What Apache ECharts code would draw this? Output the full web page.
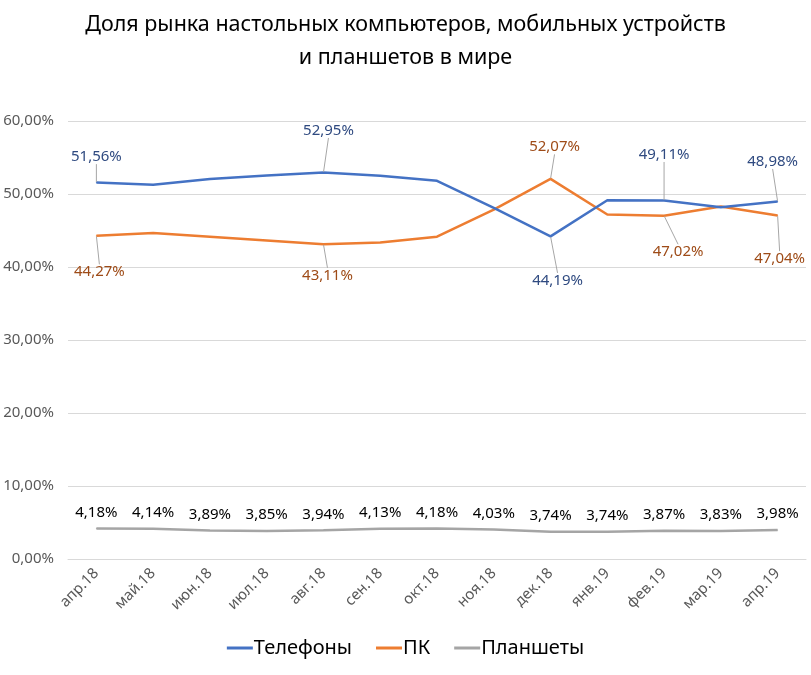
<!DOCTYPE html>
<html><head><meta charset="utf-8">
<script src="https://cdn.jsdelivr.net/npm/echarts@6/dist/echarts.min.js"></script>
<style>html,body{margin:0;padding:0;background:#fff}#c{width:811px;height:675px}</style>
</head><body><div id="c"></div>
<script>
var categories = ['апр.18','май.18','июн.18','июл.18','авг.18','сен.18','окт.18','ноя.18','дек.18','янв.19','фев.19','мар.19','апр.19'];
var phones  = [51.56, 51.27, 52.05, 52.55, 52.95, 52.50, 51.80, 48.10, 44.19, 49.15, 49.11, 48.20, 48.98];
var pcs     = [44.27, 44.66, 44.15, 43.62, 43.11, 43.35, 44.15, 47.85, 52.07, 47.20, 47.02, 48.30, 47.04];
var tablets = [4.18, 4.14, 3.89, 3.85, 3.94, 4.13, 4.18, 4.03, 3.74, 3.74, 3.87, 3.83, 3.98];
var seriesNames = ['Телефоны','ПК','Планшеты'];
var yTicks = {min: 0, max: 60, interval: 10};

// label placement (style): dataIndex -> [dx, dy] of label centre from point
var phoneLabels = {0:[0,-26], 4:[5,-42], 8:[7,44], 10:[0,-46], 12:[-5,-40]};
var pcLabels    = {0:[3,36], 4:[4,31], 8:[4,-32], 10:[14,36], 12:[2,43]};

var FONT = 'Noto Sans';
function pct(v){ return v.toFixed(2).replace('.', ',') + '%'; }

function mkData(vals, map){
  return vals.map(function(v,i){
    return { value: v, label: { show: map.hasOwnProperty(i) } };
  });
}
function layoutFn(map){
  return function(p){
    var o = map[p.dataIndex];
    if (!o) return {};
    return { dx: o[0], dy: o[1] };
  };
}

var chart = echarts.init(document.getElementById('c'), null, {renderer:'canvas'});
chart.setOption({
  animation: false,
  textStyle: { fontFamily: FONT },
  title: {
    text: 'Доля рынка настольных компьютеров, мобильных устройств\nи планшетов в мире',
    left: 'center', top: 3,
    textStyle: { fontFamily: FONT, fontSize: 21.5, fontWeight: 'normal', color: '#000', lineHeight: 33 }
  },
  legend: {
    bottom: 12, left: 'center',
    icon: 'rect', itemWidth: 26, itemHeight: 3, itemGap: 24,
    textStyle: { fontFamily: FONT, fontSize: 20, color: '#000', padding: [0,0,0,-4] },
    data: seriesNames
  },
  grid: { left: 68, right: 5, top: 121, bottom: 116, containLabel: false },
  xAxis: {
    type: 'category', data: categories, boundaryGap: true,
    axisLine: { show: true, lineStyle: { color: '#d9d9d9' } },
    axisTick: { show: false },
    axisLabel: { rotate: 45, color: '#595959', fontSize: 15, fontFamily: FONT, margin: 12, interval: 0 }
  },
  yAxis: {
    type: 'value', min: yTicks.min, max: yTicks.max, interval: yTicks.interval,
    axisLine: { show: false }, axisTick: { show: false },
    splitLine: { lineStyle: { color: '#d9d9d9', width: 1 } },
    axisLabel: { color: '#595959', fontSize: 15, fontFamily: FONT, margin: 14, formatter: function(v){ return pct(v); } }
  },
  series: [
    {
      name: seriesNames[0], type: 'line', data: mkData(phones, phoneLabels),
      symbol: 'circle', symbolSize: 1, showSymbol: true,
      lineStyle: { color: '#4472C4', width: 2.5 }, itemStyle: { color: '#4472C4' },
      label: { position: 'inside', color: '#2F4A80', fontSize: 15, fontFamily: FONT, formatter: function(p){ return pct(p.value); } },
      labelLine: { show: true, lineStyle: { color: '#a6a6a6', width: 1 } },
      labelLayout: layoutFn(phoneLabels),
      z: 3
    },
    {
      name: seriesNames[1], type: 'line', data: mkData(pcs, pcLabels),
      symbol: 'circle', symbolSize: 1, showSymbol: true,
      lineStyle: { color: '#ED7D31', width: 2.5 }, itemStyle: { color: '#ED7D31' },
      label: { position: 'inside', color: '#9E4B17', fontSize: 15, fontFamily: FONT, formatter: function(p){ return pct(p.value); } },
      labelLine: { show: true, lineStyle: { color: '#a6a6a6', width: 1 } },
      labelLayout: layoutFn(pcLabels),
      z: 2
    },
    {
      name: seriesNames[2], type: 'line', data: tablets,
      symbol: 'circle', symbolSize: 1, showSymbol: true,
      lineStyle: { color: '#A5A5A5', width: 2.5 }, itemStyle: { color: '#A5A5A5' },
      label: { show: true, position: 'top', distance: 8, color: '#000', fontSize: 15, fontFamily: FONT, formatter: function(p){ return pct(p.value); } },
      z: 1
    }
  ]
});
</script></body></html>
